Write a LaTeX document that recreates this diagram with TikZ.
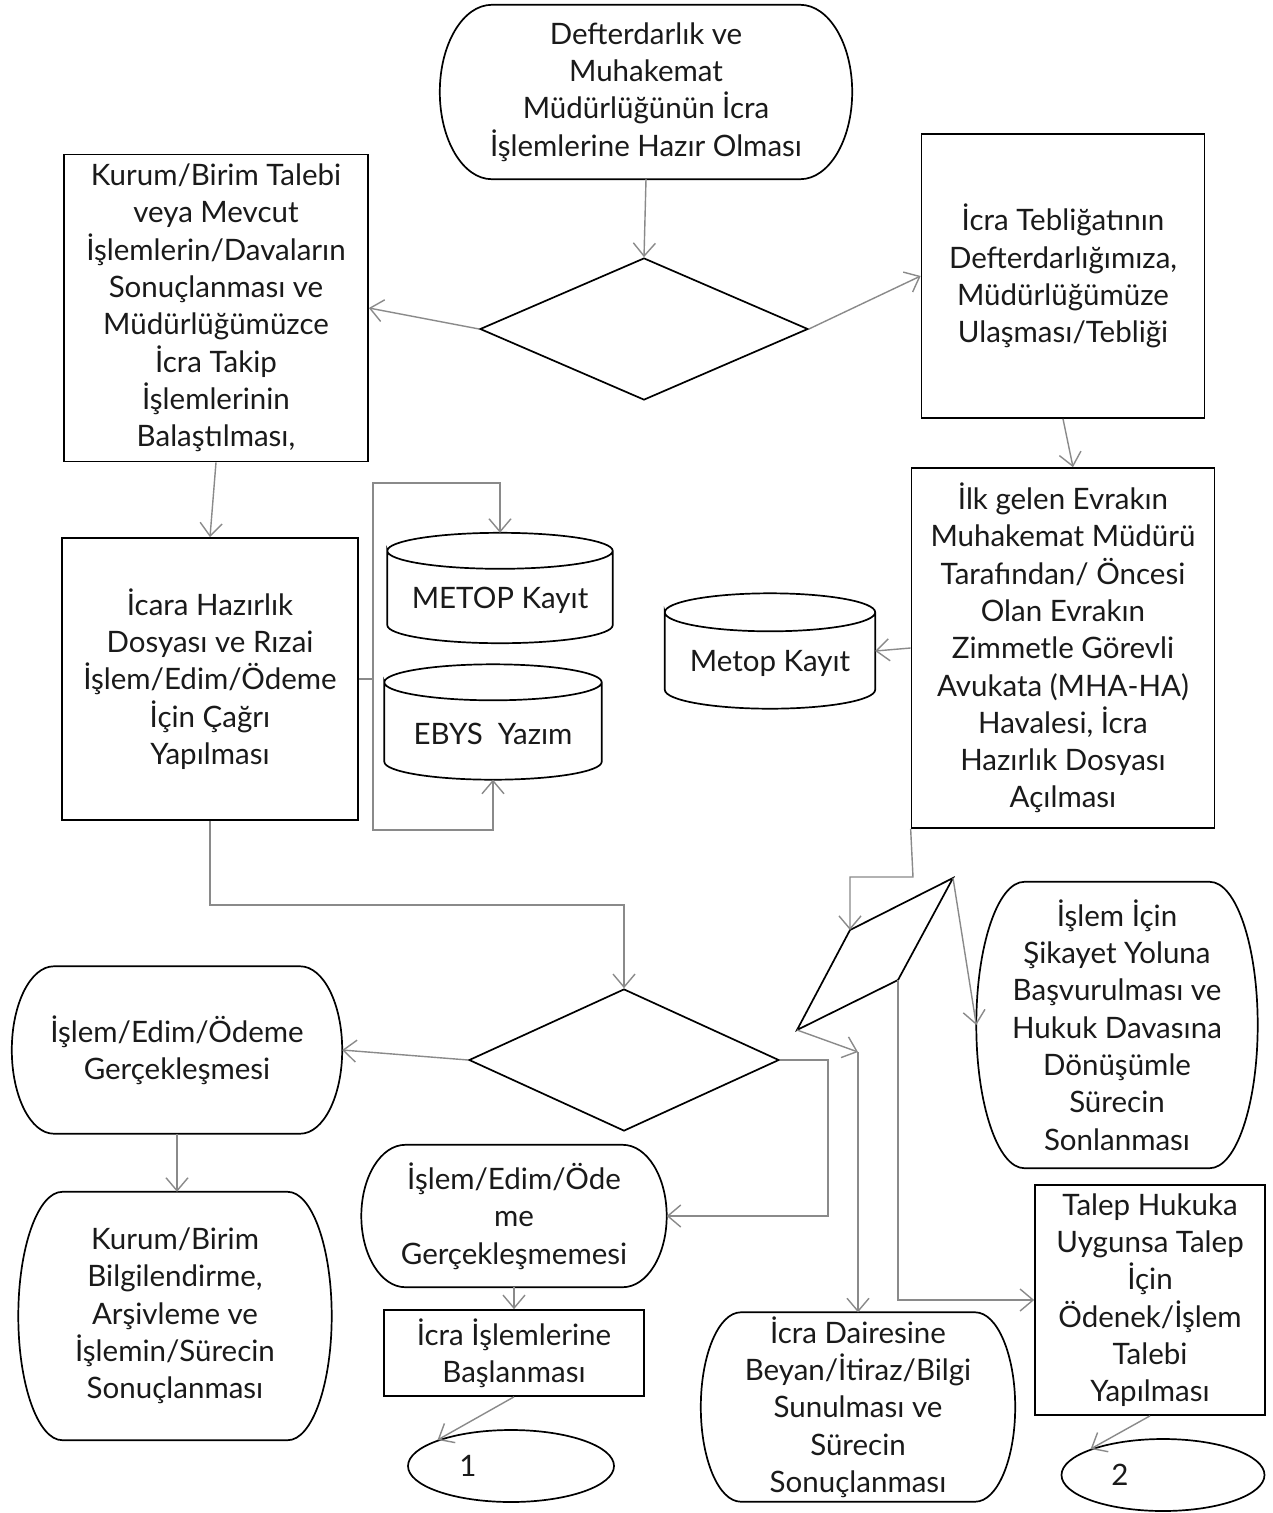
\documentclass[tikz,border=0pt]{standalone}
\usepackage{fontspec}
\setmainfont{Lato}
\usetikzlibrary{shapes.geometric,arrows.meta,calc}
\definecolor{conngray}{HTML}{8A8A8A}
\definecolor{txt}{HTML}{1A1A1A}
\newcommand\termshape[2]{%
  \draw[shapeline] let \p1=(#1.north west), \p2=(#1.south east), \n1={(\y1-\y2)/2} in
    (\x1+#2pt,\y1) -- (\x2-#2pt,\y1)
    arc[start angle=90, end angle=-90, x radius=#2pt, y radius=\n1]
    -- (\x1+#2pt,\y2)
    arc[start angle=270, end angle=90, x radius=#2pt, y radius=\n1] -- cycle;}
\newcommand\cylshape[2]{%
  \draw[shapeline] let \p1=(#1.north west), \p2=(#1.south east), \n1={(\x2-\x1)/2} in
    (\x1,\y1-#2pt) arc[start angle=180, end angle=-180, x radius=\n1, y radius=#2pt]
    -- (\x1,\y2+#2pt) arc[start angle=180, end angle=360, x radius=\n1, y radius=#2pt]
    -- (\x2,\y1-#2pt);}
\newcommand\lowtext[2]{\raisebox{-#1}[\height][\depth]{#2}}
\begin{document}
\begin{tikzpicture}[x=1pt,y=-1pt,
  every node/.style={align=center, inner sep=0pt, text=txt,
    font=\fontsize{29.5}{37.3}\selectfont},
  shapeline/.style={draw=black, line width=1.7pt},
  rectbox/.style={shapeline, rectangle},
  termbox/.style={draw=none, rectangle},
  cylbox/.style={draw=none, rectangle},
  decision/.style={shapeline, diamond},
  connector/.style={shapeline, ellipse},
  conn/.style={draw=conngray, line width=1.4pt},
  arr/.style={conn, -{Straight Barb[length=13pt,width=22pt,line width=1.4pt]}}]
\useasboundingbox (0,0) rectangle (1273,1513);
\fill[white] (0,0) rectangle (1273,1513);

% nodes
\node[termbox, minimum width=412pt, minimum height=174pt] (start) at (646,92)
  {Defterdarlık ve\\Muhakemat\\Müdürlüğünün İcra\\İşlemlerine Hazır Olması};
\node[decision, minimum width=328pt, minimum height=142pt] (d1) at (644,329) {};
\node[rectbox, minimum width=304pt, minimum height=307pt] (box1) at (216,308)
  {Kurum/Birim Talebi\\veya Mevcut\\İşlemlerin/Davaların\\Sonuçlanması ve\\Müdürlüğümüzce\\İcra Takip\\İşlemlerinin\\Balaştılması,};
\node[rectbox, minimum width=283pt, minimum height=284pt] (box2) at (1063,276)
  {İcra Tebliğatının\\Defterdarlığımıza,\\Müdürlüğümüze\\Ulaşması/Tebliği};
\node[rectbox, minimum width=296pt, minimum height=282pt] (box3) at (210,679)
  {İcara Hazırlık\\Dosyası ve Rızai\\İşlem/Edim/Ödeme\\İçin Çağrı\\Yapılması};
\node[cylbox, minimum width=225pt, minimum height=110pt] (cyl1) at (500,588)
  {\lowtext{12pt}{METOP Kayıt}};
\node[cylbox, minimum width=217pt, minimum height=115pt] (cyl2) at (493,722)
  {\lowtext{12pt}{EBYS~~Yazım}};
\node[rectbox, minimum width=303pt, minimum height=360pt] (box4) at (1063,648)
  {İlk gelen Evrakın\\Muhakemat Müdürü\\Tarafından/ Öncesi\\Olan Evrakın\\Zimmetle Görevli\\Avukata (MHA-HA)\\Havalesi, İcra\\Hazırlık Dosyası\\Açılması};
\node[cylbox, minimum width=210pt, minimum height=115pt] (cyl3) at (770,651)
  {\lowtext{12pt}{Metop Kayıt}};
\coordinate (pA) at (850,930);
\coordinate (pB) at (953,878);
\coordinate (pC) at (898,980);
\coordinate (pD) at (797,1030);
\node[termbox, minimum width=281pt, minimum height=286pt] (sikayet) at (1117,1025)
  {İşlem İçin\\Şikayet Yoluna\\Başvurulması ve\\Hukuk Davasına\\Dönüşümle\\Sürecin\\Sonlanması};
\node[decision, minimum width=310pt, minimum height=142pt] (d2) at (624,1060) {};
\node[termbox, minimum width=330pt, minimum height=167pt] (odeme) at (177,1050)
  {İşlem/Edim/Ödeme\\Gerçekleşmesi};
\node[termbox, minimum width=313pt, minimum height=248pt] (kurum2) at (175,1316)
  {Kurum/Birim\\Bilgilendirme,\\Arşivleme ve\\İşlemin/Sürecin\\Sonuçlanması};
\node[termbox, minimum width=305pt, minimum height=142pt] (odememe) at (514,1216)
  {İşlem/Edim/Öde\\me\\Gerçekleşmemesi};
\node[rectbox, minimum width=260pt, minimum height=86pt] (baslan) at (514,1353)
  {İcra İşlemlerine\\Başlanması};
\node[connector, minimum width=206pt, minimum height=72pt] (e1) at (511,1466) {1\hspace*{86pt}};
\node[termbox, minimum width=314pt, minimum height=189pt] (daire) at (858,1407)
  {İcra Dairesine\\Beyan/İtiraz/Bilgi\\Sunulması ve\\Sürecin\\Sonuçlanması};
\node[rectbox, minimum width=230pt, minimum height=230pt] (talep) at (1150,1300)
  {Talep Hukuka\\Uygunsa Talep\\İçin\\Ödenek/İşlem\\Talebi\\Yapılması};
\node[connector, minimum width=203pt, minimum height=72pt] (e2) at (1163,1475) {2\hspace*{86pt}};

% custom outlines
\termshape{start}{52}
\termshape{sikayet}{48}
\termshape{odeme}{42}
\termshape{kurum2}{44}
\termshape{odememe}{44}
\termshape{daire}{40}
\cylshape{cyl1}{18}
\cylshape{cyl2}{18}
\cylshape{cyl3}{19}
\draw[shapeline, line join=miter] (pA) -- (pB) -- (pC) -- (pD) -- cycle;

% junction points
\coordinate (j1) at (373,679);
\coordinate (jt) at (373,483);
\coordinate (jb) at (373,830);
\coordinate (t8) at (913,877);
\coordinate (p10) at (858,1052);
\coordinate (t12) at (210,905);
\coordinate (t14) at (828,1060);

% connectors
\draw[arr] (start.south) -- (d1.north);
\draw[arr] (d1.west) -- (box1.east);
\draw[arr] (d1.east) -- (box2.west);
\draw[arr] (box1.south) -- (box3.north);
\draw[conn] (box3.east) -- (j1);
\draw[arr] (j1) -- (jt) -| (cyl1.north);
\draw[arr] (j1) -- (jb) -| (cyl2.south);
\draw[arr] (box2.south) -- ([xshift=10pt]box4.north);
\draw[arr] (box4.west) -- (cyl3.east);
\draw[arr] (box4.south west) -- (t8) -| (pA);
\draw[arr] (pB) -- (sikayet.west);
\draw[arr] (pD) -- (p10);
\draw[arr] (p10) -- (daire.north);
\draw[arr] (pC) |- (talep.west);
\draw[arr] (box3.south) -- (t12) -| (d2.north);
\draw[arr] (d2.west) -- (odeme.east);
\draw[arr] (d2.east) -- (t14) |- (odememe.east);
\draw[arr] (odeme.south) -- (odeme.south |- kurum2.north);
\draw[arr] (odememe.south) -- (baslan.north);
\draw[arr] (baslan.south) -- (e1.north west);
\draw[arr] (talep.south) -- (e2.north west);
\end{tikzpicture}
\end{document}
